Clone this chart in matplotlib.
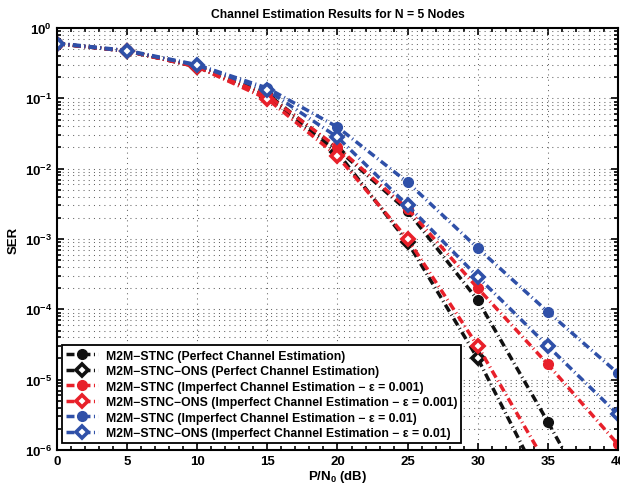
import matplotlib
matplotlib.use("Agg")
import matplotlib.pyplot as plt
import numpy as np
from matplotlib.ticker import LogLocator, MultipleLocator, NullFormatter

plt.rcParams['font.family'] = ['Liberation Sans', 'DejaVu Sans']
plt.rcParams['font.weight'] = 'bold'
plt.rcParams['mathtext.fontset'] = 'custom'
plt.rcParams['mathtext.rm'] = 'Liberation Sans:bold'
plt.rcParams['mathtext.it'] = 'Liberation Sans:bold:italic'
plt.rcParams['mathtext.bf'] = 'Liberation Sans:bold'

snr = [0, 5, 10, 15, 20, 25, 30, 35, 40]
stnc_perfect = [0.6, 0.47, 0.285, 0.115, 0.019, 2.5e-3, 1.35e-4, 2.5e-6, 4e-8]
ons_perfect = [0.6, 0.47, 0.28, 0.105, 0.017, 9e-4, 2e-5, 2.2e-7, 2e-9]
stnc_e001 = [0.6, 0.47, 0.285, 0.11, 0.02, 2.7e-3, 2e-4, 1.65e-5, 1.2e-6]
ons_e001 = [0.6, 0.47, 0.28, 0.098, 0.015, 1e-3, 3e-5, 5.8e-7, 1e-8]
stnc_e01 = [0.61, 0.48, 0.3, 0.14, 0.039, 6.4e-3, 7.4e-4, 9.2e-5, 1.23e-5]
ons_e01 = [0.6, 0.47, 0.295, 0.13, 0.028, 3e-3, 2.9e-4, 3e-5, 3.2e-6]

etiquetas = ["M2M\u2212STNC (Perfect Channel Estimation)",
             "M2M\u2212STNC\u2212ONS (Perfect Channel Estimation)",
             "M2M\u2212STNC (Imperfect Channel Estimation \u2212 \u03b5 = 0.001)",
             "M2M\u2212STNC\u2212ONS (Imperfect Channel Estimation \u2212 \u03b5 = 0.001)",
             "M2M\u2212STNC (Imperfect Channel Estimation \u2212 \u03b5 = 0.01)",
             "M2M\u2212STNC\u2212ONS (Imperfect Channel Estimation \u2212 \u03b5 = 0.01)"]

negro = '#111111'
rojo = '#e8202a'
azul = '#2f50a8'

fig = plt.figure(figsize=(6.2, 4.85), dpi=100)
ax = fig.add_axes([0.0919, 0.0701, 0.9049, 0.8701])

series = [(stnc_perfect, negro, 'o'), (ons_perfect, negro, 'D'),
          (stnc_e001, rojo, 'o'), (ons_e001, rojo, 'D'),
          (stnc_e01, azul, 'o'), (ons_e01, azul, 'D')]

trazo = (2.3, 1.0, 0.3, 1.0)
for (vals, col, mk), lab in zip(series, etiquetas):
    if mk == 'o':
        ax.plot(snr, vals, color=col, lw=2.5, dashes=trazo,
                marker='o', markersize=7, markerfacecolor=col, markeredgecolor=col,
                label=lab)
    else:
        ax.plot(snr, vals, color=col, lw=2.5, dashes=trazo,
                marker='D', markersize=6, markerfacecolor='white', markeredgecolor=col,
                markeredgewidth=2.6, label=lab)

ax.set_yscale('log')
ax.set_xlim(0, 40)
ax.set_ylim(1e-6, 1)
ax.xaxis.set_major_locator(MultipleLocator(5))
ax.xaxis.set_minor_locator(MultipleLocator(1))
ax.yaxis.set_major_locator(LogLocator(base=10, numticks=10))
ax.yaxis.set_minor_locator(LogLocator(base=10, subs=np.arange(2, 10), numticks=20))
ax.yaxis.set_minor_formatter(NullFormatter())

ax.grid(True, which='major', axis='both', linestyle=(0, (1, 4)), color='#666666', lw=0.75)
ax.grid(True, which='minor', axis='y', linestyle=(0, (1, 4)), color='#666666', lw=0.75)

ax.tick_params(which='both', direction='in', top=True, right=True, labelsize=9.5, width=1.2)
ax.tick_params(which='major', length=5)
ax.tick_params(which='minor', length=3)
for s in ax.spines.values():
    s.set_linewidth(1.5)

ax.set_title("Channel Estimation Results for N = 5 Nodes", fontsize=8.7, fontweight='bold', pad=8)
ax.set_xlabel("P/N$_0$ (dB)", fontsize=9.5, fontweight='bold', labelpad=1)
ax.set_ylabel("SER", fontsize=9.5, fontweight='bold')
ax.yaxis.set_label_coords(-0.066, 0.5)

leg = ax.legend(loc='lower left', bbox_to_anchor=(0.009, 0.016), fontsize=8.85,
                frameon=True, fancybox=False, framealpha=1, edgecolor='black',
                handlelength=2.6, borderpad=0.35, labelspacing=0.28, handletextpad=0.6,
                borderaxespad=0)
leg.get_frame().set_linewidth(1.3)
for t in leg.get_texts():
    t.set_fontweight('bold')

fig.savefig("out.png", dpi=100)
